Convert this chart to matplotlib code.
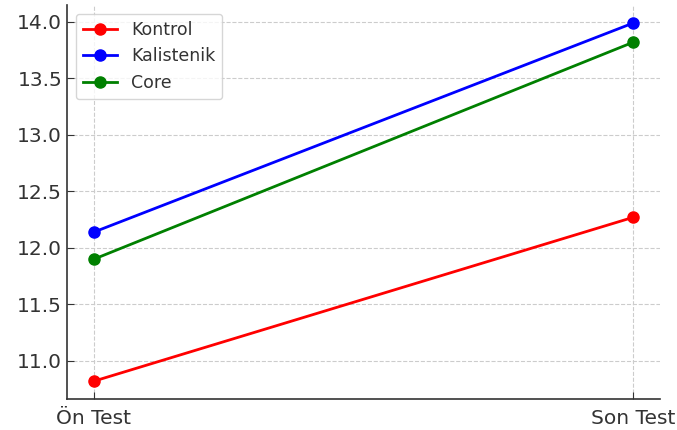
import matplotlib.pyplot as plt

# mean scores per group, pre and post test
tests = ['Ön Test', 'Son Test']
kontrol = [10.82, 12.27]
kalistenik = [12.14, 13.99]
core = [11.90, 13.82]

fig = plt.figure(figsize=(6.77, 4.30), dpi=100)
ax = fig.add_axes([0.099, 0.072, 0.876, 0.916])

ax.plot(tests, kontrol, marker='o', color='red', linewidth=2, markersize=8, label='Kontrol')
ax.plot(tests, kalistenik, marker='o', color='blue', linewidth=2, markersize=8, label='Kalistenik')
ax.plot(tests, core, marker='o', color='green', linewidth=2, markersize=8, label='Core')

ax.grid(True, linestyle='--', color='#cccccc', linewidth=0.8)
ax.spines['top'].set_visible(False)
ax.spines['right'].set_visible(False)
for side in ['left', 'bottom']:
    ax.spines[side].set_color('#333333')
    ax.spines[side].set_linewidth(1.2)
ax.tick_params(labelsize=14.5, direction='in', length=5, color='#333333', labelcolor='#333333')
ax.tick_params(axis='x', pad=7)

leg = ax.legend(loc='upper left', fontsize=12.5)
for t in leg.get_texts():
    t.set_color('#333333')

fig.savefig('out.png')
